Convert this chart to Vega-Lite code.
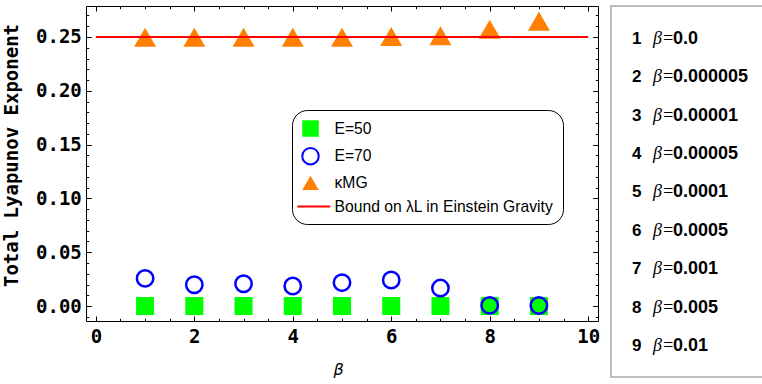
{
  "$schema": "https://vega.github.io/schema/vega-lite/v6.json",
  "background": "white",
  "padding": {"left": 2, "top": 5, "right": 0, "bottom": 0},
  "datasets": {
    "pts": [
      {"i": 1, "beta": "0.0", "e50": 0, "e70": 0.0257, "kmg": 0.2497},
      {"i": 2, "beta": "0.000005", "e50": 0, "e70": 0.0198, "kmg": 0.2497},
      {"i": 3, "beta": "0.00001", "e50": 0, "e70": 0.0207, "kmg": 0.2497},
      {"i": 4, "beta": "0.00005", "e50": 0, "e70": 0.0186, "kmg": 0.2497},
      {"i": 5, "beta": "0.0001", "e50": 0, "e70": 0.0217, "kmg": 0.2497},
      {"i": 6, "beta": "0.0005", "e50": 0, "e70": 0.0242, "kmg": 0.2505},
      {"i": 7, "beta": "0.001", "e50": 0, "e70": 0.0167, "kmg": 0.2512},
      {"i": 8, "beta": "0.005", "e50": 0, "e70": 0.0006, "kmg": 0.2572},
      {"i": 9, "beta": "0.01", "e50": 0, "e70": 0.0005, "kmg": 0.2647}
    ],
    "bound": [
      {"b": 0, "lam": 0.25},
      {"b": 10, "lam": 0.25}
    ]
  },
  "config": {"view": {"stroke": null}},
  "spacing": 9,
  "hconcat": [
    {
      "width": 512,
      "height": 315,
      "view": {"stroke": "black", "strokeWidth": 1},
      "resolve": {"axis": {"x": "independent", "y": "independent"}},
      "layer": [
        {
          "data": {"name": "pts"},
          "mark": {"type": "point", "opacity": 1, "strokeWidth": 2, "size": 324},
          "encoding": {
            "x": {
              "field": "i", "type": "quantitative",
              "scale": {"domain": [-0.2, 10.2], "nice": false, "zero": false},
              "axis": {
                "orient": "bottom", "title": "β",
                "values": [0, 2, 4, 6, 8, 10],
                "format": "d",
                "grid": false, "domain": false, "tickSize": -5, "tickColor": "black", "tickWidth": 1,
                "labelFont": "DejaVu Sans Mono", "labelFontWeight": "bold", "labelFontSize": 19, "labelColor": "black",
                "labelPadding": 11, "labelFlush": false, "labelOverlap": false, "labelBound": false,
                "titleFont": "DejaVu Sans", "titleFontStyle": "italic", "titleFontWeight": "normal", "titleFontSize": 16, "titleColor": "black",
                "titlePadding": 15, "titleX": 252
              }
            },
            "y": {
              "field": "e50", "type": "quantitative",
              "scale": {"domain": [-0.0139, 0.2788], "nice": false, "zero": false},
              "axis": {
                "orient": "left", "title": "Total Lyapunov Exponent",
                "values": [0, 0.05, 0.1, 0.15, 0.2, 0.25],
                "format": ".2f",
                "grid": false, "domain": false, "tickSize": -5.3, "tickColor": "black", "tickWidth": 1,
                "labelFont": "DejaVu Sans Mono", "labelFontWeight": "bold", "labelFontSize": 19, "labelColor": "black",
                "labelPadding": 10, "labelOverlap": false, "labelBound": false, "labelFlush": false,
                "titleFont": "DejaVu Sans Mono", "titleFontWeight": "bold", "titleFontSize": 19, "titleColor": "black",
                "titlePadding": 14, "titleY": 149
              }
            },
            "fill": {
              "datum": "E=50",
              "scale": {
                "domain": ["E=50", "E=70", "κMG", "Bound on λL in Einstein Gravity"],
                "range": ["#00ff00", "transparent", "#ff8000", "transparent"]
              },
              "legend": {
                "orient": "none", "legendX": 206, "legendY": 104,
                "title": null,
                "padding": 9, "rowPadding": 2.7,
                "cornerRadius": 15, "strokeColor": "black", "fillColor": "white",
                "symbolSize": 272, "symbolStrokeWidth": 2, "symbolOpacity": 1,
                "labelFont": "Liberation Sans", "labelFontSize": 15.7, "labelColor": "black", "labelLimit": 400, "labelOffset": 14.5
              }
            },
            "stroke": {
              "datum": "E=50",
              "scale": {
                "domain": ["E=50", "E=70", "κMG", "Bound on λL in Einstein Gravity"],
                "range": ["transparent", "#0000ff", "transparent", "#ff0000"]
              }
            },
            "shape": {
              "datum": "E=50",
              "scale": {
                "domain": ["E=50", "E=70", "κMG", "Bound on λL in Einstein Gravity"],
                "range": ["square", "circle", "triangle-up", "M-1.6,0H2.4"]
              }
            }
          }
        },
        {
          "data": {"name": "pts"},
          "mark": {"type": "point", "strokeWidth": 2.5, "opacity": 1, "size": 269},
          "encoding": {
            "x": {
              "field": "i", "type": "quantitative",
              "axis": {
                "orient": "top", "title": null, "labels": false,
                "values": [0, 2, 4, 6, 8, 10],
                "grid": false, "domain": false, "tickSize": -5, "tickColor": "black", "tickWidth": 1
              }
            },
            "y": {
              "field": "e70", "type": "quantitative",
              "axis": {
                "orient": "right", "title": null, "labels": false,
                "values": [0, 0.05, 0.1, 0.15, 0.2, 0.25],
                "grid": false, "domain": false, "tickSize": -5.3, "tickColor": "black", "tickWidth": 1
              }
            },
            "fill": {"datum": "E=70"},
            "stroke": {"datum": "E=70"},
            "shape": {"datum": "E=70"}
          }
        },
        {
          "data": {"name": "pts"},
          "mark": {"type": "point", "size": 484, "opacity": 1},
          "encoding": {
            "x": {
              "field": "i", "type": "quantitative",
              "axis": {
                "orient": "bottom", "title": null, "labels": false,
                "values": [0.5, 1, 1.5, 2.5, 3, 3.5, 4.5, 5, 5.5, 6.5, 7, 7.5, 8.5, 9, 9.5],
                "grid": false, "domain": false, "tickSize": -2.7, "tickColor": "black", "tickWidth": 1
              }
            },
            "y": {
              "field": "kmg", "type": "quantitative",
              "axis": {
                "orient": "left", "title": null, "labels": false,
                "values": [-0.01, 0.01, 0.02, 0.03, 0.04, 0.06, 0.07, 0.08, 0.09, 0.11, 0.12, 0.13, 0.14, 0.16, 0.17, 0.18, 0.19, 0.21, 0.22, 0.23, 0.24, 0.26, 0.27],
                "grid": false, "domain": false, "tickSize": -2.7, "tickColor": "black", "tickWidth": 1
              }
            },
            "fill": {"datum": "κMG"},
            "stroke": {"datum": "κMG"},
            "shape": {"datum": "κMG"}
          }
        },
        {
          "data": {"name": "bound"},
          "mark": {"type": "line", "strokeWidth": 2},
          "encoding": {
            "x": {
              "field": "b", "type": "quantitative",
              "axis": {
                "orient": "top", "title": null, "labels": false,
                "values": [0.5, 1, 1.5, 2.5, 3, 3.5, 4.5, 5, 5.5, 6.5, 7, 7.5, 8.5, 9, 9.5],
                "grid": false, "domain": false, "tickSize": -2.7, "tickColor": "black", "tickWidth": 1
              }
            },
            "y": {
              "field": "lam", "type": "quantitative",
              "axis": {
                "orient": "right", "title": null, "labels": false,
                "values": [-0.01, 0.01, 0.02, 0.03, 0.04, 0.06, 0.07, 0.08, 0.09, 0.11, 0.12, 0.13, 0.14, 0.16, 0.17, 0.18, 0.19, 0.21, 0.22, 0.23, 0.24, 0.26, 0.27],
                "grid": false, "domain": false, "tickSize": -2.7, "tickColor": "black", "tickWidth": 1
              }
            },
            "stroke": {"datum": "Bound on λL in Einstein Gravity"}
          }
        }
      ]
    },
    {
      "width": 152,
      "height": 371,
      "view": {"stroke": "#a8a8a8", "strokeWidth": 1.5},
      "data": {"name": "pts"},
      "encoding": {
        "y": {"field": "i", "type": "quantitative", "scale": {"domain": [0.14, 9.81], "reverse": true, "nice": false, "zero": false}, "axis": null}
      },
      "layer": [
        {
          "mark": {"type": "text", "align": "left", "baseline": "middle", "font": "Liberation Sans", "fontWeight": "bold", "fontSize": 17, "color": "black"},
          "encoding": {"x": {"value": 21}, "text": {"field": "i"}}
        },
        {
          "mark": {"type": "text", "align": "left", "baseline": "middle", "font": "Liberation Serif", "fontStyle": "italic", "fontSize": 18, "color": "black", "text": "β="},
          "encoding": {"x": {"value": 42}}
        },
        {
          "mark": {"type": "text", "align": "left", "baseline": "middle", "font": "Liberation Sans", "fontWeight": "bold", "fontSize": 18, "color": "black"},
          "encoding": {"x": {"value": 62}, "text": {"field": "beta"}}
        }
      ]
    }
  ]
}
